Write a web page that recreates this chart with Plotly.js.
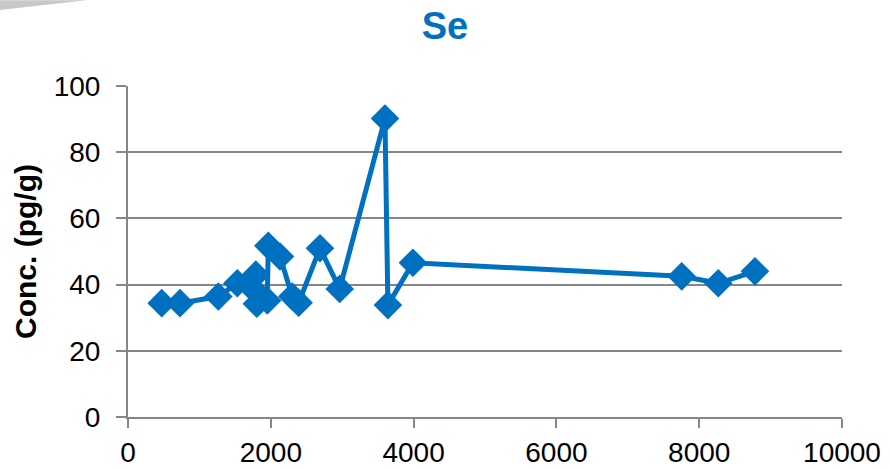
<!DOCTYPE html>
<html>
<head>
<meta charset="utf-8">
<script src="https://cdn.plot.ly/plotly-3.0.1.min.js"></script>
<style>
  html, body { margin: 0; padding: 0; background: #ffffff; }
  #chart { width: 890px; height: 469px; }
</style>
</head>
<body>
<div id="chart"></div>
<script>
// Selenium concentration samples, in sampling order
const position = [472, 728, 1265, 1531, 1790, 1760, 1805, 1950, 1965, 2129, 2300, 2390, 2689, 2965, 3599, 3640, 3990, 7755, 8267, 8781];
const conc     = [34.4, 34.4, 36.4, 40.4, 43.0, 38.5, 34.2, 35.2, 51.7, 48.5, 36.4, 34.5, 51.0, 38.7, 90.2, 33.8, 46.6, 42.5, 40.4, 44.0];

const xTicks = [0, 2000, 4000, 6000, 8000, 10000];
const yTicks = [0, 20, 40, 60, 80, 100];

const blue = '#0070C0';
const grey = '#868686';

const trace = {
  x: position,
  y: conc,
  type: 'scatter',
  mode: 'lines+markers',
  line: { color: blue, width: 5 },
  marker: { symbol: 'diamond', size: 22, color: blue, line: { width: 0 } },
  cliponaxis: false,
  hoverinfo: 'x+y'
};

const layout = {
  width: 890,
  height: 469,
  margin: { l: 128, r: 48, t: 86, b: 52 },
  paper_bgcolor: '#ffffff',
  plot_bgcolor: '#ffffff',
  showlegend: false,
  font: { family: 'Liberation Sans, Arial, sans-serif', color: '#000000' },
  title: {
    text: '<b>Se</b>',
    font: { family: 'Liberation Sans, Arial, sans-serif', size: 38, color: blue },
    x: 0.5, xref: 'container', xanchor: 'center',
    y: 0.945, yref: 'container', yanchor: 'middle'
  },
  xaxis: {
    range: [0, 10000],
    tickvals: xTicks,
    ticktext: xTicks.map(String),
    showgrid: false,
    zeroline: false,
    showline: true,
    linecolor: grey,
    linewidth: 2,
    ticks: 'outside',
    ticklen: 9,
    tickwidth: 2,
    tickcolor: grey,
    tickfont: { size: 28, color: '#000000' },
    fixedrange: true
  },
  yaxis: {
    range: [0, 100],
    tickvals: yTicks,
    ticktext: yTicks.map(String),
    showgrid: true,
    gridcolor: grey,
    gridwidth: 2,
    zeroline: false,
    showline: true,
    linecolor: grey,
    linewidth: 2,
    ticks: 'outside',
    ticklen: 10,
    tickwidth: 2,
    tickcolor: grey,
    ticklabelstandoff: 10,
    tickfont: { size: 28, color: '#000000' },
    title: {
      text: '<b>Conc. (pg/g)</b>',
      font: { size: 30, color: '#000000' },
      standoff: 8
    },
    fixedrange: true
  },
  shapes: [
    {
      // light grey corner swoosh
      type: 'path',
      xref: 'paper', yref: 'paper',
      path: 'M -0.1793 1.2594 L -0.0574 1.2594 Q -0.12 1.245 -0.1793 1.2293 Z',
      fillcolor: '#c8c8c8',
      line: { width: 0 },
      layer: 'above'
    }
  ]
};

Plotly.newPlot('chart', [trace], layout, { displayModeBar: false, staticPlot: true });
</script>
</body>
</html>
